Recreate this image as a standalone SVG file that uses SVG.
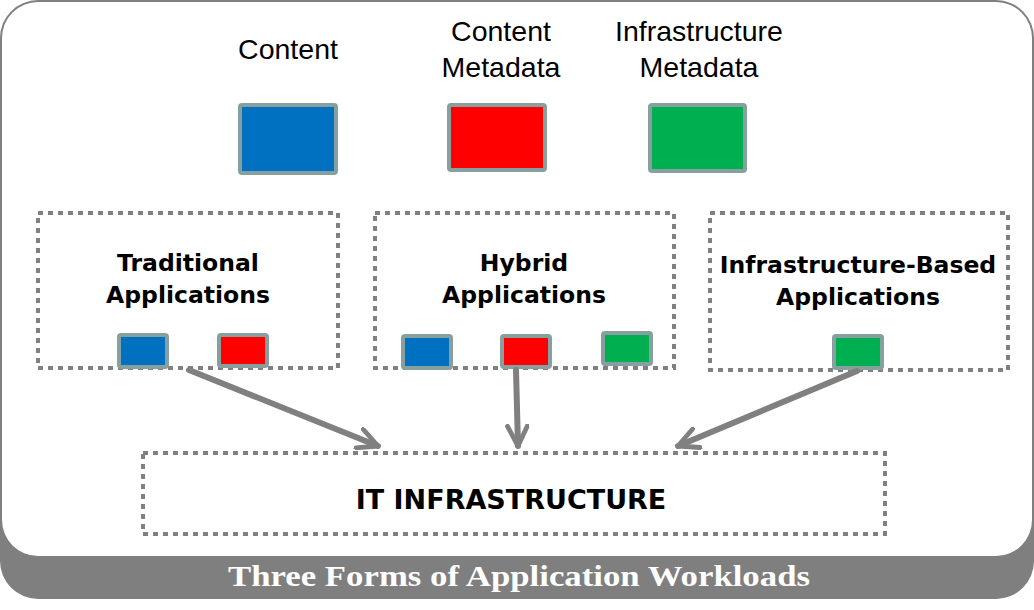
<svg xmlns="http://www.w3.org/2000/svg" width="1034" height="610" viewBox="0 0 1034 610">
<style>
.lbl{font-family:"Liberation Sans",Arial,sans-serif;font-size:28.5px;fill:#000;text-anchor:middle}
.app{font-family:"DejaVu Sans",Verdana,sans-serif;font-weight:bold;font-size:23.5px;fill:#000;text-anchor:middle}
.dash{fill:none;stroke:#808080;stroke-width:4;stroke-dasharray:5 5}
.sq{stroke:#86A0A0;stroke-width:4}
.b{fill:#0070C0}.r{fill:#FF0000}.g{fill:#00B050}
.conn{stroke:#808080;stroke-width:6;fill:none;stroke-linecap:round}
.title{font-family:"Liberation Serif","Times New Roman",serif;font-weight:bold;font-size:29px;fill:#fff;text-anchor:middle}
</style>
<defs>
<marker id="ah" viewBox="0 0 12 12" refX="11" refY="6" markerWidth="4" markerHeight="4" orient="auto" markerUnits="strokeWidth">
<path d="M1,1 L11,6 L1,11" fill="none" stroke="#808080" stroke-width="2.4" stroke-linecap="round" stroke-linejoin="round"/>
</marker>
</defs>
<g id="frame">
<rect x="0" y="0" width="1034" height="599" rx="38" fill="#7F7F7F"/>
<rect x="2" y="2" width="1030" height="554" rx="36" fill="#fff"/>
<text class="title" x="519" y="586" textLength="582" lengthAdjust="spacingAndGlyphs">Three Forms of Application Workloads</text>
</g>
<g id="legend-content">
<text class="lbl" x="288" y="59">Content</text>
<rect class="sq b" x="240" y="105" width="96" height="68" rx="2"/>
</g>
<g id="legend-content-metadata">
<text class="lbl" x="501" y="41">Content</text>
<text class="lbl" x="501" y="77">Metadata</text>
<rect class="sq r" x="449" y="105" width="96" height="65" rx="2"/>
</g>
<g id="legend-infra-metadata">
<text class="lbl" x="699" y="41">Infrastructure</text>
<text class="lbl" x="699" y="77">Metadata</text>
<rect class="sq g" x="650" y="105" width="95" height="66" rx="2"/>
</g>
<g id="traditional">
<rect class="dash" x="38" y="213" width="300" height="155"/>
<text class="app" x="188" y="271">Traditional</text>
<text class="app" x="188" y="303">Applications</text>
<rect class="sq b" x="119" y="335" width="48" height="32" rx="2"/>
<rect class="sq r" x="219" y="335" width="48" height="31" rx="2"/>
</g>
<g id="hybrid">
<rect class="dash" x="375" y="213" width="299" height="155"/>
<text class="app" x="524" y="271">Hybrid</text>
<text class="app" x="524" y="303">Applications</text>
<rect class="sq b" x="403" y="336" width="48" height="32" rx="2"/>
<rect class="sq r" x="502" y="336" width="48" height="31" rx="2"/>
<rect class="sq g" x="603" y="333" width="48" height="31" rx="2"/>
</g>
<g id="infra-based">
<rect class="dash" x="710" y="213" width="298" height="157"/>
<text class="app" x="858" y="273">Infrastructure-Based</text>
<text class="app" x="858" y="305">Applications</text>
<rect class="sq g" x="834" y="336" width="48" height="32" rx="2"/>
</g>
<g id="it-infrastructure">
<rect class="dash" x="143" y="453" width="742" height="81"/>
<text class="app" x="511" y="509" style="font-size:27px">IT INFRASTRUCTURE</text>
</g>
<g id="connectors">
<line class="conn" x1="189" y1="370" x2="378" y2="446" marker-end="url(#ah)"/>
<line class="conn" x1="516" y1="370" x2="518" y2="446" marker-end="url(#ah)"/>
<line class="conn" x1="857" y1="371" x2="678" y2="446" marker-end="url(#ah)"/>
</g>
</svg>
